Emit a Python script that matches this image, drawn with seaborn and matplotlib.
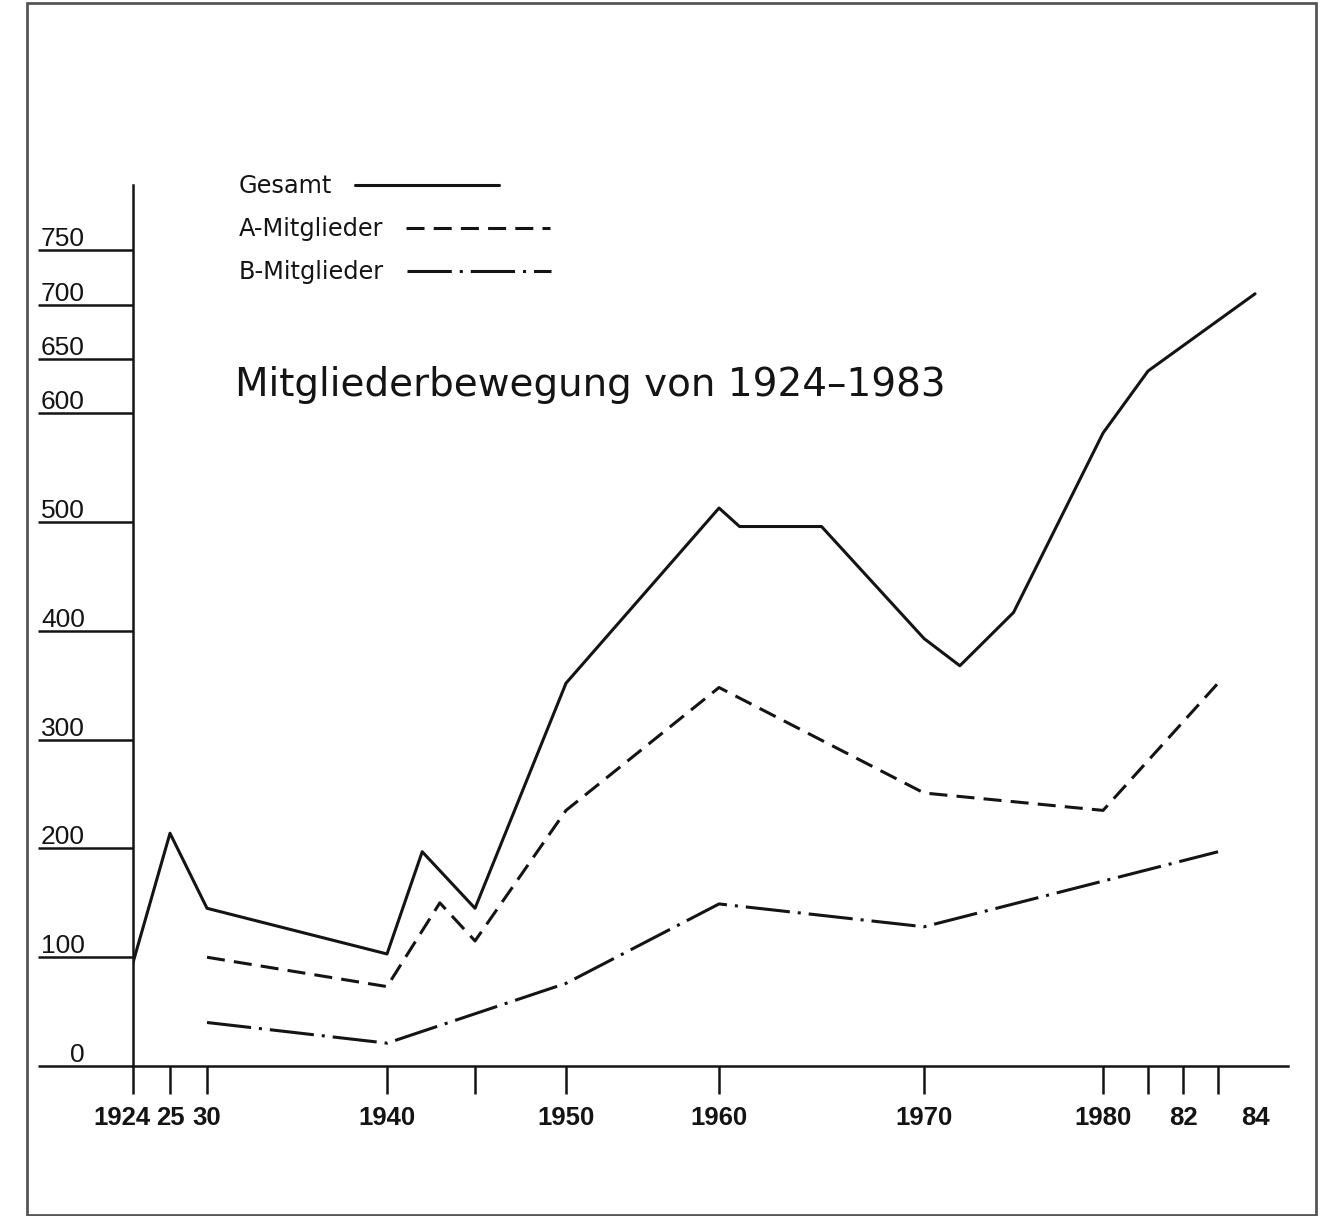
import numpy as np
import pandas as pd
import matplotlib.pyplot as plt
import seaborn as sns
from matplotlib.transforms import ScaledTranslation

# values
gesamt_jahre = [1924, 1925, 1930, 1940, 1942, 1945, 1950, 1960, 1961, 1965, 1970, 1972, 1975, 1980, 1981, 1984]
gesamt = [95, 214, 145, 103, 197, 145, 352, 513, 496, 496, 393, 368, 417, 582, 639, 710]

a_jahre = [1930, 1940, 1943, 1945, 1950, 1960, 1970, 1980, 1983]
a_mitglieder = [100, 73, 150, 115, 235, 348, 251, 235, 352]

b_jahre = [1930, 1940, 1950, 1960, 1970, 1983]
b_mitglieder = [40, 21, 76, 149, 128, 197]

x_ticks = [1924, 1925, 1930, 1940, 1945, 1950, 1960, 1970, 1980, 1981, 1982, 1983, 1984]
x_labels = ['1924', '25', '30', '1940', '', '1950', '1960', '1970', '1980', '', '82', '', '84']
y_ticks = [0, 100, 200, 300, 400, 500, 600, 650, 700, 750]

# the year axis of the drawing is not evenly spaced
achse_jahre = [1924, 1925, 1930, 1940, 1945, 1950, 1960, 1970, 1980, 1981, 1982, 1983, 1984, 1985]
achse_pos = [0, 37, 74, 254, 342, 433, 586, 791, 970, 1015, 1050, 1085, 1122, 1159]

def vor(x):
    return np.interp(x, achse_jahre, achse_pos)

def zurueck(p):
    return np.interp(p, achse_pos, achse_jahre)

sns.set_style('white')
plt.rcParams['font.family'] = ['DejaVu Sans']
ziffern = ['Liberation Sans', 'DejaVu Sans']
ink = '#141414'

fig = plt.figure(figsize=(13.3, 12.16), dpi=100)
ax = fig.add_axes([133 / 1330, 150 / 1216, (1288 - 133) / 1330, (1066 - 185) / 1216])

ges = pd.DataFrame({'Jahr': gesamt_jahre, 'Mitglieder': gesamt})
a_df = pd.DataFrame({'Jahr': a_jahre, 'Mitglieder': a_mitglieder})
b_df = pd.DataFrame({'Jahr': b_jahre, 'Mitglieder': b_mitglieder})

sns.lineplot(data=ges, x='Jahr', y='Mitglieder', ax=ax, color=ink, lw=2.2,
             linestyle='-', label='Gesamt')
sns.lineplot(data=a_df, x='Jahr', y='Mitglieder', ax=ax, color=ink, lw=2.2,
             linestyle=(0, (5.9, 3.0)), label='A-Mitglieder')
sns.lineplot(data=b_df, x='Jahr', y='Mitglieder', ax=ax, color=ink, lw=2.2,
             linestyle=(0, (14.5, 2.6, 1.0, 2.6)), label='B-Mitglieder')

ax.set_xscale('function', functions=(vor, zurueck))
ax.set_xlim(1924, 1984.89)
ax.set_ylim(0, 810)
ax.set_xlabel('')
ax.set_ylabel('')

for s in ['top', 'right']:
    ax.spines[s].set_visible(False)
for s in ['left', 'bottom']:
    ax.spines[s].set_color(ink)
    ax.spines[s].set_linewidth(1.8)

ax.set_xticks(x_ticks)
ax.set_xticklabels(x_labels, fontsize=18.5, fontweight='bold', family=ziffern, color=ink)
ax.set_yticks(y_ticks)
ax.set_yticklabels([str(v) for v in y_ticks], fontsize=19, family=ziffern, color=ink)
ax.xaxis.set_minor_locator(plt.NullLocator())

ax.tick_params(axis='x', bottom=True, direction='out', length=20, width=1.8, color=ink, pad=9)
ax.tick_params(axis='y', left=True, direction='out', length=68.4, width=1.8, color=ink, pad=-33.8)

ax.xaxis.get_major_ticks()[-1].tick1line.set_visible(False)

for lab in ax.get_yticklabels():
    lab.set_ha('right')
    lab.set_va('baseline')
    lab.set_transform(lab.get_transform() + ScaledTranslation(0, 4 / 100, fig.dpi_scale_trans))

erster = ax.get_xticklabels()[0]
erster.set_transform(erster.get_transform() + ScaledTranslation(-11 / 100, 0, fig.dpi_scale_trans))

leg = ax.legend(loc='upper left', bbox_to_anchor=(239 / 1330, 1 - 174 / 1216),
                bbox_transform=fig.transFigure, frameon=False, markerfirst=False,
                fontsize=17.3, handlelength=6.0, handletextpad=0.95, labelspacing=0.8,
                borderpad=0, borderaxespad=0)
for t in leg.get_texts():
    t.set_color(ink)
# texts flush left, line right after each text
for spalte in leg._legend_handle_box.get_children():
    spalte.align = 'left'

fig.text(235 / 1330, 1 - 396 / 1216, 'Mitgliederbewegung von 1924\u20131983',
         fontsize=28, color=ink, va='baseline', ha='left')

fig.add_artist(plt.Rectangle((27 / 1330, 1 / 1216), (1316 - 27) / 1330, (1213 - 1) / 1216,
                             transform=fig.transFigure, fill=False, ec='#555555', lw=2))

fig.savefig('out.png', dpi=100)
